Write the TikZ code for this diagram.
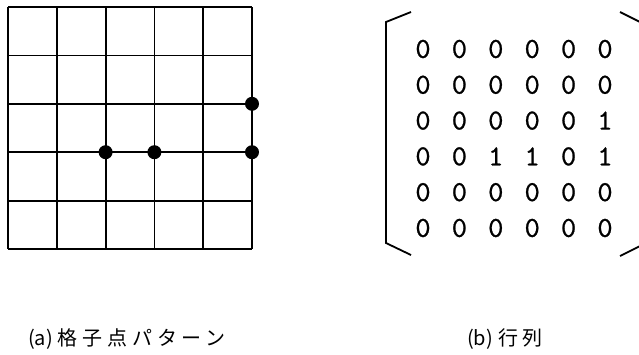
\documentclass[tikz,border=0pt]{standalone}
\usepackage{fontspec}
\newfontfamily\jpfont[LetterSpace=24]{Noto Sans CJK JP}
\newfontfamily\capfont{Noto Sans CJK JP}
\newfontfamily\digitfont[FakeBold=0.8]{lmmono10-regular.otf}
\begin{document}
\begin{tikzpicture}[x=1pt,y=-1pt,
  gridline/.style={line width=1.8pt},
  bracketline/.style={line width=1.8pt},
  dot/.style={circle,fill=black,inner sep=0pt,minimum size=14pt},
  entry/.style={font=\digitfont\fontsize{29}{29}\selectfont,inner sep=0pt,anchor=center},
  caption/.style={font=\fontsize{20}{20}\selectfont,inner sep=0pt,anchor=west}]
\useasboundingbox (0,0) rectangle (639,354);
\clip (0,0) rectangle (639,354);
% grid
\foreach \i in {0,...,5}{
  \draw[gridline] ({8+48.8*\i},7) -- ({8+48.8*\i},249);
  \draw[gridline] (8,{7+48.4*\i}) -- (252,{7+48.4*\i});
}
% dots
\node[dot] (d1) at ({8+48.8*2},{7+48.4*3}) {};
\node[dot] (d2) at ({8+48.8*3},{7+48.4*3}) {};
\node[dot] (d3) at ({8+48.8*5},{7+48.4*2}) {};
\node[dot] (d4) at ({8+48.8*5},{7+48.4*3}) {};
% matrix entries
\foreach \r/\row in {0/{0,0,0,0,0,0},1/{0,0,0,0,0,0},2/{0,0,0,0,0,1},3/{0,0,1,1,0,1},4/{0,0,0,0,0,0},5/{0,0,0,0,0,0}}{
  \foreach \v [count=\c from 0] in \row {
    \node[entry] (m-\r-\c) at ({423+36.4*\c},{49+35.8*\r}) {\v};
  }
}
% brackets
\draw[bracketline] (411,12) -- (386,22) -- (386,243) -- (411,255);
\draw[bracketline] (620,12) -- (660,32) -- (660,236) -- (620,256);
% captions
\node[caption] (capa) at (28,339) {\capfont (a)\hspace{5pt}\jpfont 格子点パターン};
\node[caption] (capb) at (467,339) {\capfont (b)\hspace{5pt}\jpfont 行列};
\end{tikzpicture}
\end{document}
